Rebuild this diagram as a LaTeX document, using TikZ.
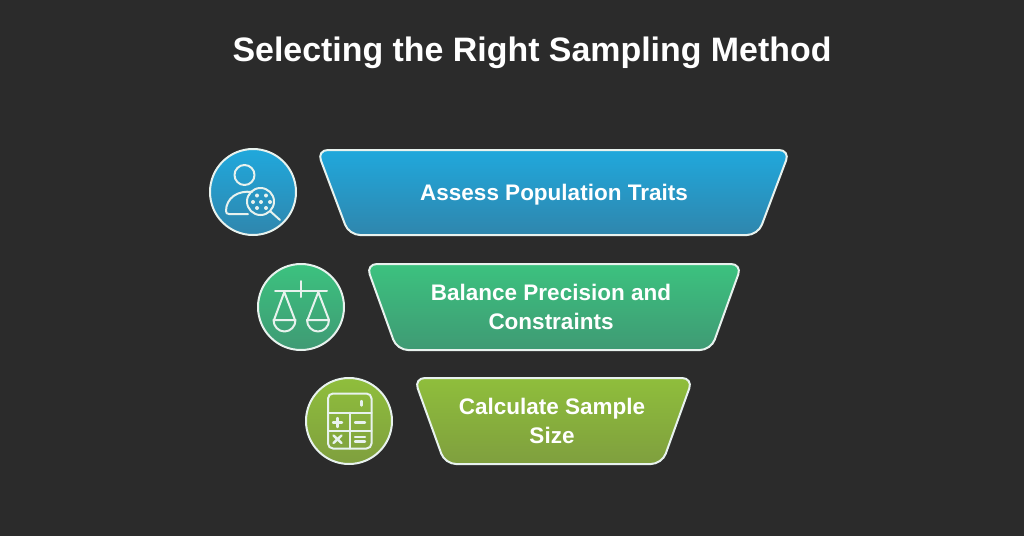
\documentclass[tikz,border=0pt]{standalone}
\usepackage{fontspec}
\setmainfont{Liberation Sans}
\definecolor{bg}{HTML}{2B2B2B}
\definecolor{edge}{HTML}{E8F2EE}
\definecolor{blueT}{HTML}{20A8DC}
\definecolor{blueB}{HTML}{2F86AD}
\definecolor{greenT}{HTML}{3CC27F}
\definecolor{greenB}{HTML}{3F9A74}
\definecolor{oliveT}{HTML}{8FBE3C}
\definecolor{oliveB}{HTML}{7F9F3E}
\tikzset{
  x=1pt,y=-1pt,
  titletext/.style={text=white,font=\bfseries\fontsize{33.9}{36}\selectfont,inner sep=0pt},
  steptext/.style={text=white,font=\bfseries\fontsize{22.5}{28.5}\selectfont,align=center,inner sep=0pt},
  funnel/.style={draw=edge,line width=2pt,rounded corners=11pt},
  badge/.style={draw=edge,line width=2pt},
  icon/.style={draw=edge,line width=2pt,line cap=round,line join=round},
}
\begin{document}
\begin{tikzpicture}
\fill[bg] (0,0) rectangle (1024,536);
\useasboundingbox (0,0) rectangle (1024,536);
\node[titletext] (title) at (532,53) {Selecting the Right Sampling Method};
% funnel bands
\path[funnel,top color=blueT,bottom color=blueB] (317,150) -- (790,150) -- (758,235) -- (349,235) -- cycle;
\path[funnel,top color=greenT,bottom color=greenB] (366,264) -- (742,264) -- (711,350) -- (397,350) -- cycle;
\path[funnel,top color=oliveT,bottom color=oliveB] (414,378) -- (693,378) -- (662,464) -- (445,464) -- cycle;
\node[steptext] (s1) at (554,195) {Assess Population Traits};
\node[steptext] (s2) at (551,307) {Balance Precision and\\Constraints};
\node[steptext] (s3) at (552,421) {Calculate Sample\\Size};
% badges
\path[badge,top color=blueT,bottom color=blueB] (253,192) circle[radius=43];
\path[badge,top color=greenT,bottom color=greenB] (301,307) circle[radius=43];
\path[badge,top color=oliveT,bottom color=oliveB] (349,421) circle[radius=43];
% person icon
\draw[icon] (244.5,175) circle[radius=10];
\draw[icon] (252,192) .. controls (238,190) and (226,198) .. (226,211) .. controls (226,213) and (227,214) .. (229,214) -- (248,214);
\draw[icon] (260.5,201.5) circle[radius=13.5];
\draw[icon] (270,211) -- (280,220);
\foreach \dx/\dy in {257/195.5,266/195.5,253/202,261/202,270/202,257/208,266/208}
  \fill[edge] (\dx,\dy) circle[radius=2];
% scales icon
\draw[icon] (275,291) -- (327,291);
\draw[icon] (301,281) -- (301,297);
\draw[icon] (284.3,292) -- (274,320) (284.3,292) -- (295,320);
\draw[icon] (318.3,292) -- (307.5,320) (318.3,292) -- (329,320);
\draw[icon] (273.5,320) -- (295.5,320) arc[start angle=0,end angle=180,x radius=11,y radius=11.5] -- cycle;
\draw[icon] (307,320) -- (329,320) arc[start angle=0,end angle=180,x radius=11,y radius=11.5] -- cycle;
% calculator icon
\draw[icon,rounded corners=5pt] (328,393.5) rectangle (371.5,448.5);
\draw[icon] (328,412.7) -- (371.5,412.7);
\draw[icon] (328,431) -- (371.5,431);
\draw[icon] (349.7,412.7) -- (349.7,448.5);
\draw[icon,line width=2.4pt] (361.3,401) -- (361.3,405.5);
\draw[icon,line width=2.4pt] (333,422.3) -- (342,422.3) (337.5,418) -- (337.5,427);
\draw[icon,line width=2.4pt] (355,422.3) -- (365,422.3);
\draw[icon,line width=2.4pt] (333.5,435.5) -- (341.5,443) (341.5,435.5) -- (333.5,443);
\draw[icon,line width=2.4pt] (355,437) -- (365,437) (355,441.5) -- (365,441.5);
\end{tikzpicture}
\end{document}
